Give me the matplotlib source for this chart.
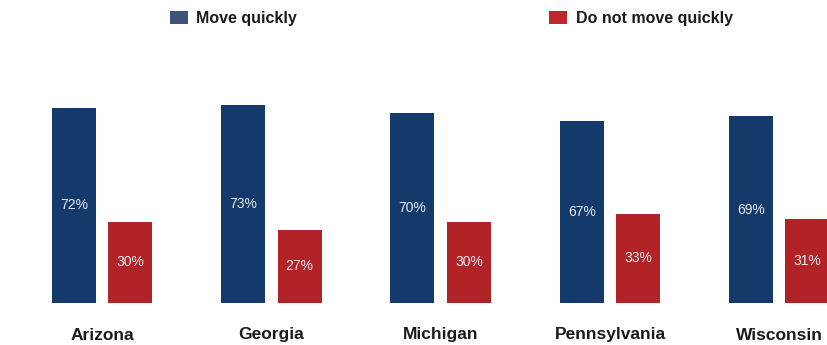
import matplotlib
matplotlib.use("Agg")
import matplotlib.pyplot as plt
from matplotlib.patches import Patch
import numpy as np

plt.rcParams['font.family'] = ['Liberation Sans', 'DejaVu Sans']

states = ["Arizona", "Georgia", "Michigan", "Pennsylvania", "Wisconsin"]
move_quickly = [72, 73, 70, 67, 69]
not_quickly = [30, 27, 30, 33, 31]
series_names = ["Move quickly", "Do not move quickly"]

bar_blue = "#143a6b"
bar_red = "#b12326"
leg_blue = "#3e5378"
leg_red = "#c0272d"

W, H = 828, 345
fig = plt.figure(figsize=(W / 100, H / 100), dpi=100)

# axes geometry (pixels)
base_px = 42          # baseline height from bottom
px_per_pct = 2.71
top_px = 345
ax_h = top_px - base_px
group0 = 102.25
spacing = 169.25
ax = fig.add_axes([0, base_px / H, 1, ax_h / H])
ax.set_xlim(-group0 / spacing, (W - group0) / spacing)
ax.set_ylim(0, ax_h / px_per_pct)
ax.axis("off")

x = np.arange(len(states))
bw = 44 / spacing
off = 28.25 / spacing

b1 = ax.bar(x - off, move_quickly, bw, color=bar_blue)
b2 = ax.bar(x + off, not_quickly, bw, color=bar_red)

for bars, vals in ((b1, move_quickly), (b2, not_quickly)):
    for r, v in zip(bars, vals):
        ax.text(r.get_x() + r.get_width() / 2, v / 2, f"{v}%",
                ha="center", va="center", color="#e8ebf2", fontsize=10)

for xi, s in zip(x, states):
    ax.annotate(s, xy=(xi, 0), xytext=(0, -32), textcoords="offset pixels",
                ha="center", va="center", fontsize=12.5, fontweight="bold",
                color="#1a1a1a", annotation_clip=False)

handles = [Patch(facecolor=leg_blue, edgecolor="none"),
           Patch(facecolor=leg_red, edgecolor="none")]
leg = fig.legend(handles, series_names, loc="upper left",
                 bbox_to_anchor=(170 / W, 1 - 11 / H), ncol=2, frameon=False,
                 borderpad=0, borderaxespad=0, handlelength=1.1, handleheight=0.9,
                 handletextpad=0.55, columnspacing=15.8,
                 prop={"weight": "bold", "size": 11.5})
for t in leg.get_texts():
    t.set_color("#1a1a1a")

fig.savefig("out.png", dpi=100)
